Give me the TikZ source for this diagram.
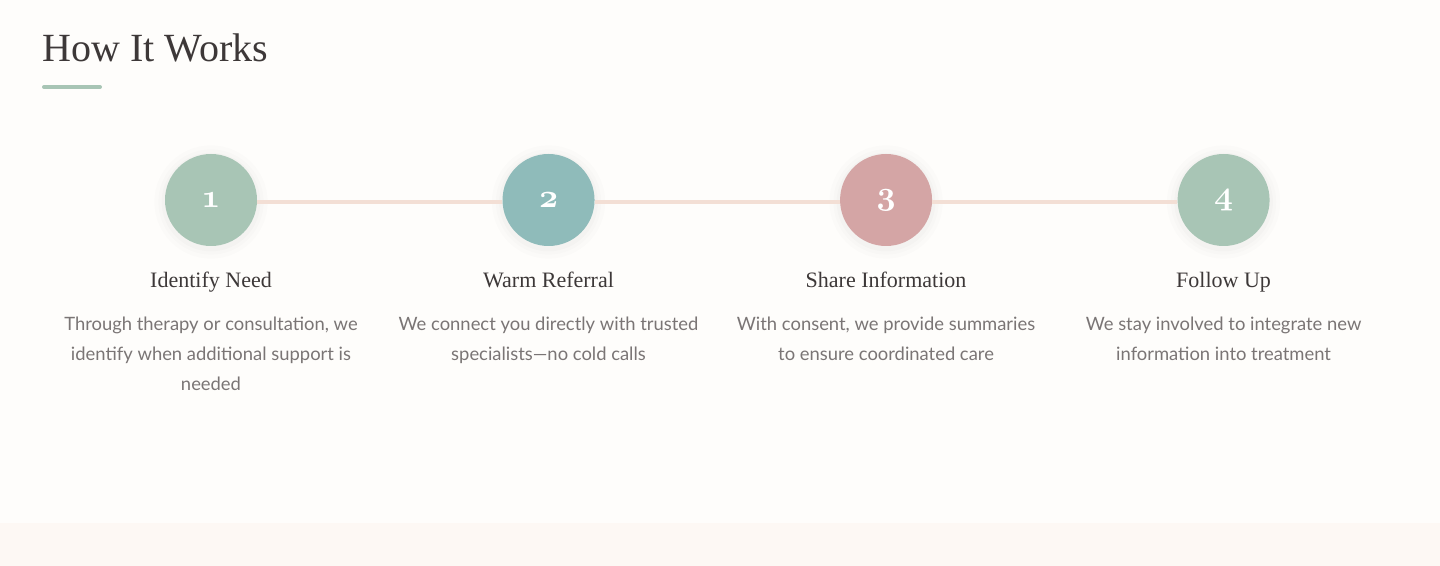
\documentclass[tikz,border=0pt]{standalone}
\usepackage{fontspec}
\setmainfont{Liberation Serif}
\setsansfont{Lato}
\usetikzlibrary{positioning}

\definecolor{pagebg}{HTML}{FEFDFB}
\definecolor{stripbg}{HTML}{FDF8F4}
\definecolor{ink}{HTML}{3D3838}
\definecolor{muted}{HTML}{7A7575}
\definecolor{sage}{HTML}{A8C5B5}
\definecolor{teal}{HTML}{8FBBBA}
\definecolor{rose}{HTML}{D4A5A5}
\definecolor{track}{HTML}{F3DFD5}

\newcommand{\stepnum}[1]{{\usefont{OML}{cmm}{b}{it}#1}}

\tikzset{
  num/.style={circle, minimum size=69pt, inner sep=0pt, text=white,
    font=\fontsize{24}{24}\selectfont,
    preaction={draw=black, draw opacity=0.010, line width=16pt, transform canvas={yshift=-1.5pt}},
    preaction={draw=black, draw opacity=0.012, line width=10pt, transform canvas={yshift=-1.5pt}},
    preaction={draw=black, draw opacity=0.015, line width=5pt, transform canvas={yshift=-1.5pt}}},
  stitle/.style={inner sep=0pt, text=ink, text height=12pt, text depth=4pt,
    font=\fontsize{16.5}{20}\selectfont},
  sdesc/.style={inner sep=0pt, align=center, text=muted,
    font=\sffamily\fontsize{13.8}{22.5}\selectfont},
  track/.style={draw=track, line width=3pt, transform canvas={yshift=-1.5pt}}
}

\begin{document}
\begin{tikzpicture}[x=0.75pt, y=-0.75pt]

  \fill[pagebg] (0,0) rectangle (1440,566);
  \fill[stripbg] (0,523) rectangle (1440,566);

  \node[anchor=base west, inner sep=0pt, text=ink,
    font=\fontsize{30}{30}\selectfont] (head) at (42,62) {How It Works};
  \draw[sage, line width=3pt, line cap=round] (44,87) -- (100,87);

  \node[num, fill=sage]                        (n1) at (211,200) {\stepnum{1}};
  \node[num, fill=teal, right=183.75pt of n1]  (n2) {\stepnum{2}};
  \node[num, fill=rose, right=183.75pt of n2]  (n3) {\stepnum{3}};
  \node[num, fill=sage, right=183.75pt of n3]  (n4) {\stepnum{4}};

  \draw[track] (n1) -- (n2);
  \draw[track] (n2) -- (n3);
  \draw[track] (n3) -- (n4);

  \node[stitle, below=18.75pt of n1] (t1) {Identify Need};
  \node[stitle, below=18.75pt of n2] (t2) {Warm Referral};
  \node[stitle, below=18.75pt of n3] (t3) {Share Information};
  \node[stitle, below=18.75pt of n4] (t4) {Follow Up};

  \node[sdesc, below=18pt of t1] (d1) {Through therapy or consultation, we\\identify when additional support is\\needed};
  \node[sdesc, below=18pt of t2] (d2) {We connect you directly with trusted\\specialists---no cold calls};
  \node[sdesc, below=18pt of t3] (d3) {With consent, we provide summaries\\to ensure coordinated care};
  \node[sdesc, below=18pt of t4] (d4) {We stay involved to integrate new\\information into treatment};

\end{tikzpicture}
\end{document}
